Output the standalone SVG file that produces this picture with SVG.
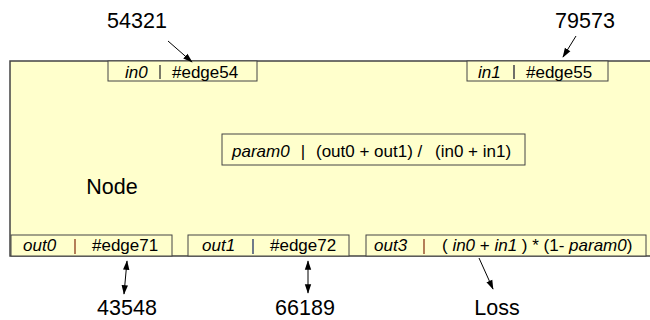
<svg xmlns="http://www.w3.org/2000/svg" width="650" height="320" viewBox="0 0 650 320">
<defs>
<marker id="ah" viewBox="0 0 12 10" refX="11" refY="5" markerWidth="10" markerHeight="8" orient="auto-start-reverse" markerUnits="userSpaceOnUse"><path d="M0,1 L12,5 L0,9 z" fill="#000"/></marker>
<style>
.main{fill:#ffffcc;stroke:#444;stroke-width:1.5}
.box{fill:#ffffcc;stroke:#444;stroke-width:1}
.t{font-family:"Liberation Sans",Arial,sans-serif;font-size:17px;fill:#000}
.i{font-style:italic}
.big{font-family:"Liberation Sans",Arial,sans-serif;font-size:21.5px;fill:#000}
.c{stroke:#000;stroke-width:1;fill:none}
</style>
</defs>
<rect width="650" height="320" fill="#fff"/>
<g id="node">
<rect class="main" x="10" y="61" width="645" height="195"/>
<text class="big" x="112" y="194" text-anchor="middle">Node</text>
</g>
<g id="in0">
<rect class="box" x="108" y="61" width="149" height="20"/>
<text class="t i" x="125" y="78">in0</text>
<line x1="160" y1="65" x2="160" y2="79" stroke="#333" stroke-width="1.3"/>
<text class="t" x="172" y="78">#edge54</text>
</g>
<g id="in1">
<rect class="box" x="467" y="61" width="141" height="20"/>
<text class="t i" x="478" y="78">in1</text>
<line x1="514" y1="65" x2="514" y2="79" stroke="#223" stroke-width="1.3"/>
<text class="t" x="526" y="78">#edge55</text>
</g>
<g id="param0">
<rect class="box" x="222" y="134" width="303" height="31"/>
<text class="t i" x="232" y="157">param0</text>
<text class="t" x="303" y="157" text-anchor="middle">|</text>
<text class="t" x="316" y="157">(out0 + out1) /</text>
<text class="t" x="435" y="157">(in0 + in1)</text>
</g>
<g id="out0">
<rect class="box" x="11" y="235" width="161" height="21"/>
<text class="t i" x="23" y="251">out0</text>
<line x1="75" y1="239" x2="75" y2="254" stroke="#8b3a1a" stroke-width="1.3"/>
<text class="t" x="92" y="251">#edge71</text>
</g>
<g id="out1">
<rect class="box" x="188" y="235" width="161" height="21"/>
<text class="t i" x="202" y="251">out1</text>
<line x1="253" y1="239" x2="253" y2="254" stroke="#223366" stroke-width="1.3"/>
<text class="t" x="270" y="251">#edge72</text>
</g>
<g id="out3">
<rect class="box" x="366" y="235" width="280" height="21"/>
<text class="t i" x="374" y="251">out3</text>
<line x1="424" y1="239" x2="424" y2="254" stroke="#8b3a1a" stroke-width="1.3"/>
<text class="t" x="442" y="251"><tspan>( </tspan><tspan class="i">in0</tspan><tspan> + </tspan><tspan class="i">in1</tspan><tspan> ) * (1- </tspan><tspan class="i">param0</tspan><tspan>)</tspan></text>
</g>
<g id="labels">
<text class="big" x="137" y="28" text-anchor="middle">54321</text>
<text class="big" x="585" y="28" text-anchor="middle">79573</text>
<text class="big" x="127" y="315" text-anchor="middle">43548</text>
<text class="big" x="305" y="315" text-anchor="middle">66189</text>
<text class="big" x="497" y="315" text-anchor="middle">Loss</text>
</g>
<g id="connectors">
<line class="c" x1="168" y1="41" x2="192" y2="62" marker-end="url(#ah)"/>
<line class="c" x1="576" y1="36" x2="563" y2="57" marker-end="url(#ah)"/>
<line class="c" x1="127" y1="261" x2="124" y2="294" marker-start="url(#ah)" marker-end="url(#ah)"/>
<line class="c" x1="308" y1="261" x2="308" y2="293" marker-start="url(#ah)" marker-end="url(#ah)"/>
<line class="c" x1="479" y1="258" x2="493" y2="289" marker-end="url(#ah)"/>
</g>
</svg>
